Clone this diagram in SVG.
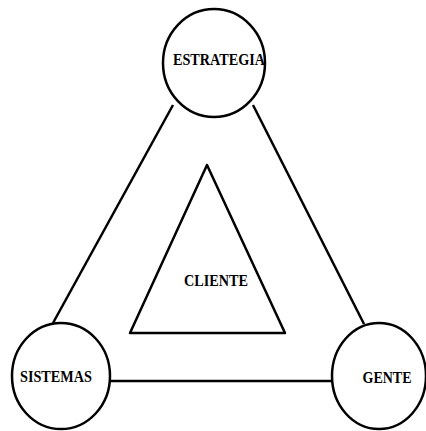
<svg xmlns="http://www.w3.org/2000/svg" width="426" height="431" viewBox="0 0 426 431">
<style>
.s{fill:none;stroke:#000;stroke-width:2.5;stroke-linejoin:round}
.t{font-family:"Liberation Serif","Times New Roman",serif;font-weight:bold;font-size:17px;fill:#000;text-anchor:middle}
</style>
<rect width="426" height="431" fill="#fff"/>
<g id="connectors">
<line class="s" x1="173" y1="105" x2="53" y2="323"/>
<line class="s" x1="253" y1="105" x2="364" y2="324"/>
<line class="s" x1="110" y1="381" x2="332" y2="381"/>
</g>
<g id="estrategia">
<ellipse class="s" cx="214" cy="63" rx="51" ry="54"/>
<text class="t" x="219" y="65" textLength="92" lengthAdjust="spacingAndGlyphs">ESTRATEGIA</text>
</g>
<g id="sistemas">
<ellipse class="s" cx="61" cy="376" rx="49" ry="53"/>
<text class="t" x="56" y="382" textLength="72" lengthAdjust="spacingAndGlyphs">SISTEMAS</text>
</g>
<g id="gente">
<ellipse class="s" cx="379" cy="376" rx="47" ry="53"/>
<text class="t" x="387" y="383" textLength="49" lengthAdjust="spacingAndGlyphs">GENTE</text>
</g>
<g id="cliente">
<polygon class="s" points="207,165 130,333 285,333"/>
<text class="t" x="216" y="286" textLength="64" lengthAdjust="spacingAndGlyphs">CLIENTE</text>
</g>
</svg>
